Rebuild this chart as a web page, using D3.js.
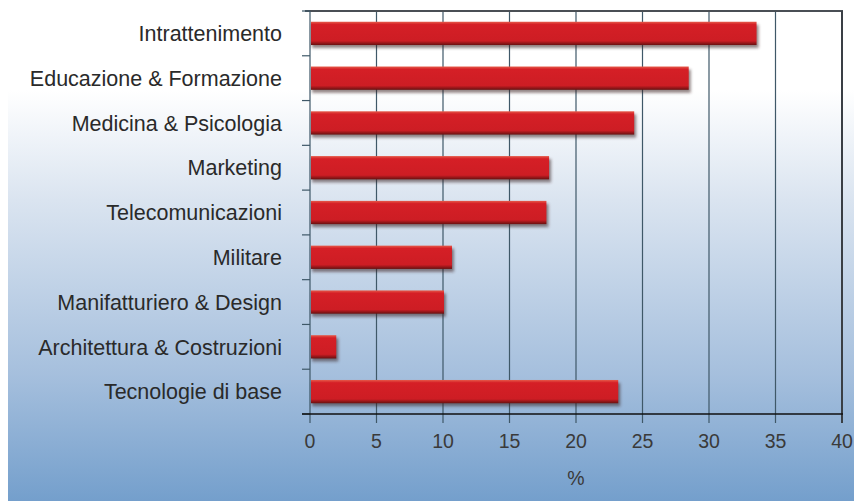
<!DOCTYPE html>
<html>
<head>
    <meta charset="utf-8">
    <style>
        body { margin: 0; padding: 0; }
        svg { display: block; font-family: 'Liberation Sans', Arial, sans-serif; }
    </style>
</head>
<body>
    <svg width="854" height="501"></svg>

<script src="https://d3js.org/d3.v7.min.js"></script>
<script>
    // data
    let categories = ["Intrattenimento", "Educazione & Formazione", "Medicina & Psicologia", "Marketing",
        "Telecomunicazioni", "Militare", "Manifatturiero & Design", "Architettura & Costruzioni", "Tecnologie di base"]
    let values = [33.5, 28.4, 24.3, 17.9, 17.7, 10.6, 10.0, 1.9, 23.1]
    let xTicks = [0, 5, 10, 15, 20, 25, 30, 35, 40]
    let xLabel = "%"

    let width = 854
    let height = 501
    let margin = { top: 11, right: 12, bottom: 87, left: 310 }

    let svg = d3.select("svg")
    let defs = svg.append("defs")

    // background gradient
    let bg = defs.append("linearGradient").attr("id", "bg").attr("x1", 0).attr("y1", 0).attr("x2", 0).attr("y2", 1)
    bg.append("stop").attr("offset", "0%").attr("stop-color", "#ffffff")
    bg.append("stop").attr("offset", "18%").attr("stop-color", "#ffffff")
    bg.append("stop").attr("offset", "40%").attr("stop-color", "#dae4f0")
    bg.append("stop").attr("offset", "75%").attr("stop-color", "#a5bfdd")
    bg.append("stop").attr("offset", "100%").attr("stop-color", "#749fcc")

    // bar gradient
    let bar = defs.append("linearGradient").attr("id", "bar").attr("x1", 0).attr("y1", 0).attr("x2", 0).attr("y2", 1)
    bar.append("stop").attr("offset", "0%").attr("stop-color", "#e65a4a")
    bar.append("stop").attr("offset", "12%").attr("stop-color", "#d51f26")
    bar.append("stop").attr("offset", "82%").attr("stop-color", "#cd1d24")
    bar.append("stop").attr("offset", "100%").attr("stop-color", "#681010")

    let blur = defs.append("filter").attr("id", "shadow").attr("x", "-10%").attr("y", "-30%").attr("width", "130%").attr("height", "180%")
    blur.append("feGaussianBlur").attr("stdDeviation", 1.5)

    svg.append("rect").attr("width", width).attr("height", height).attr("fill", "url(#bg)")
    svg.append("rect").attr("width", 8).attr("height", height).attr("fill", "#ffffff")

    let x = d3.scaleLinear()
        .domain([0, 40])
        .range([margin.left, width - margin.right])

    let y = d3.scaleBand()
        .domain(categories)
        .range([margin.top, height - margin.bottom])
        .paddingInner(0.48)
        .paddingOuter(0.24)

    let y0 = height - margin.bottom
    let bandStep = y.step()

    // gridlines (extend below axis as ticks)
    svg.append("g")
        .selectAll("line")
        .data(xTicks.slice(1))
        .join("line")
        .attr("x1", d => x(d))
        .attr("x2", d => x(d))
        .attr("y1", margin.top)
        .attr("y2", y0 + 9)
        .attr("stroke", "#3f5868")
        .attr("stroke-width", 1.2)

    // frame top and right
    svg.append("line")
        .attr("x1", x(0) - 5).attr("x2", x(40) + 1)
        .attr("y1", margin.top).attr("y2", margin.top)
        .attr("stroke", "#4a4f55").attr("stroke-width", 2)
    svg.append("line")
        .attr("x1", x(40)).attr("x2", x(40))
        .attr("y1", margin.top).attr("y2", y0 + 9)
        .attr("stroke", "#3a3f45").attr("stroke-width", 2)
    svg.append("line")
        .attr("x1", x(0)).attr("x2", x(0))
        .attr("y1", margin.top).attr("y2", y0 + 9)
        .attr("stroke", "#3f5868").attr("stroke-width", 1.2)

    // y-axis ticks at band boundaries
    svg.append("g")
        .selectAll("line")
        .data(d3.range(categories.length + 1))
        .join("line")
        .attr("x1", x(0) - 8)
        .attr("x2", x(0))
        .attr("y1", i => margin.top + i * bandStep)
        .attr("y2", i => margin.top + i * bandStep)
        .attr("stroke", "#3f5868")
        .attr("stroke-width", 1.2)

    // x-axis line
    svg.append("line")
        .attr("x1", x(0) - 8).attr("x2", x(40) + 1)
        .attr("y1", y0).attr("y2", y0)
        .attr("stroke", "#111").attr("stroke-width", 1.5)

    // bar shadows
    svg.append("g")
        .selectAll("rect")
        .data(values)
        .join("rect")
        .attr("x", x(0) + 2)
        .attr("y", (d, i) => y(categories[i]) + 3)
        .attr("width", d => x(d) - x(0) + 1)
        .attr("height", y.bandwidth())
        .attr("fill", "#3a2020")
        .attr("opacity", 0.55)
        .attr("filter", "url(#shadow)")

    // bars
    svg.append("g")
        .selectAll("rect")
        .data(values)
        .join("rect")
        .attr("x", x(0) + 1)
        .attr("y", (d, i) => y(categories[i]))
        .attr("width", d => x(d) - x(0))
        .attr("height", y.bandwidth())
        .attr("fill", "url(#bar)")

    // category labels
    svg.append("g")
        .selectAll("text")
        .data(categories)
        .join("text")
        .attr("x", 282)
        .attr("y", d => y(d) + y.bandwidth() / 2)
        .attr("dy", "0.36em")
        .attr("text-anchor", "end")
        .attr("font-size", 21.5)
        .attr("fill", "#2a2a2a")
        .text(d => d)

    // x tick labels
    svg.append("g")
        .selectAll("text")
        .data(xTicks)
        .join("text")
        .attr("x", d => x(d))
        .attr("y", 448)
        .attr("text-anchor", "middle")
        .attr("font-size", 19.5)
        .attr("fill", "#3a3a3a")
        .text(d => d)

    svg.append("text")
        .attr("x", x(20))
        .attr("y", 485)
        .attr("text-anchor", "middle")
        .attr("font-size", 19.5)
        .attr("fill", "#3a3a3a")
        .text(xLabel)
</script>
</body>
</html>
